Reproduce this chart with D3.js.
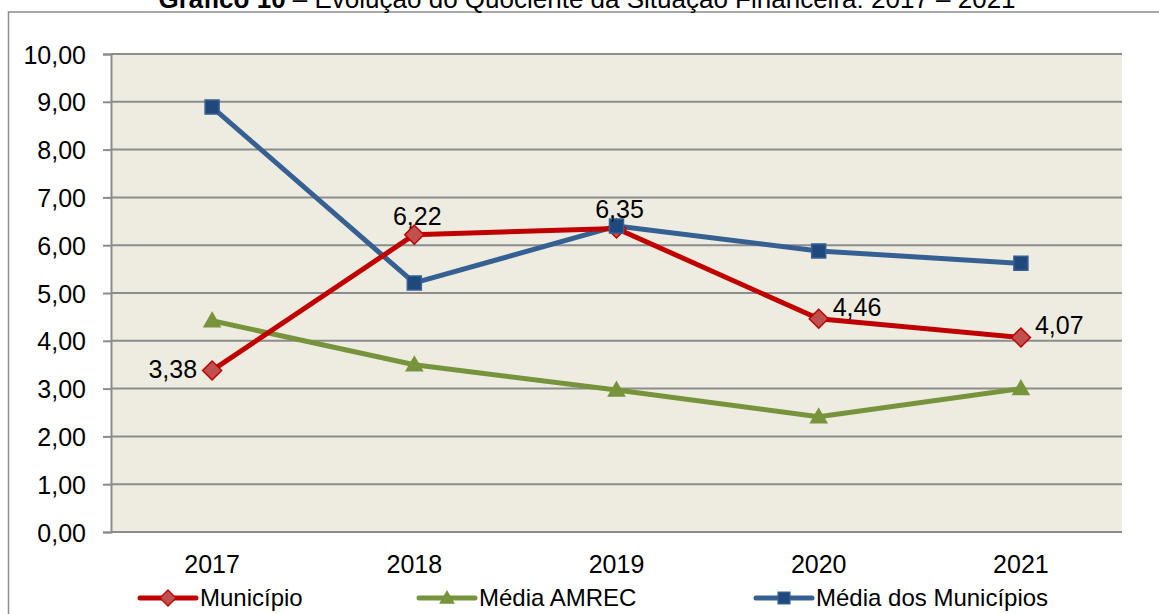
<!DOCTYPE html>
<html>
<head>
<meta charset="utf-8">
<script src="https://cdn.jsdelivr.net/npm/d3@7"></script>
<style>
  html, body { margin: 0; padding: 0; background: #ffffff; overflow: hidden; }
  svg { display: block; font-family: "Liberation Sans", Arial, sans-serif; }
</style>
</head>
<body>
<svg id="chart" width="1159" height="614"></svg>
<script>
// ---- data ----
const categories = ["2017", "2018", "2019", "2020", "2021"];
const municipio = [3.38, 6.22, 6.35, 4.46, 4.07];
const mediaAmrec = [4.42, 3.50, 2.97, 2.41, 3.00];
const mediaMunicipios = [8.89, 5.21, 6.40, 5.88, 5.62];
const yTicks = [0, 1, 2, 3, 4, 5, 6, 7, 8, 9, 10];
const seriesNames = ["Município", "Média AMREC", "Média dos Municípios"];
const titleBold = "Gráfico 10";
const titleRest = " – Evolução do Quociente da Situação Financeira: 2017 – 2021";

// ---- layout ----
const svg = d3.select("#chart");
const plot = { left: 111, right: 1122, top: 54, bottom: 532 };
const fmt = v => v.toFixed(2).replace(".", ",");

const x = d3.scaleBand().domain(categories).range([plot.left, plot.right]).paddingInner(0).paddingOuter(0);
const cx = c => x(c) + x.bandwidth() / 2;
const y = d3.scaleLinear().domain([0, 10]).range([plot.bottom, plot.top]);

// outer border (extends beyond the picture on right/bottom)
svg.append("rect").attr("x", 8.5).attr("y", 12).attr("width", 1300).attr("height", 800)
  .attr("fill", "none").attr("stroke", "#8c8c8c").attr("stroke-width", 1.5);

// title (cut by the top edge, as in the reference)
const title = svg.append("text").attr("x", 587).attr("y", 8).attr("text-anchor", "middle")
  .attr("font-size", 26).attr("fill", "#000");
title.append("tspan").attr("font-weight", "bold").text(titleBold);
title.append("tspan").text(titleRest);

// plot background
svg.append("rect").attr("x", plot.left).attr("y", plot.top)
  .attr("width", plot.right - plot.left).attr("height", plot.bottom - plot.top)
  .attr("fill", "#EEECE1");

// gridlines
svg.append("g").selectAll("line").data(yTicks).join("line")
  .attr("x1", plot.left).attr("x2", plot.right)
  .attr("y1", d => y(d)).attr("y2", d => y(d))
  .attr("stroke", "#8c8c8c").attr("stroke-width", 2);

// y axis
const yAxis = d3.axisLeft(y).tickValues(yTicks).tickFormat(fmt).tickSize(8).tickPadding(17);
const gy = svg.append("g").attr("transform", `translate(${plot.left},0)`).call(yAxis);
gy.select(".domain").attr("stroke", "#8c8c8c").attr("stroke-width", 2);
gy.selectAll(".tick line").attr("stroke", "#8c8c8c").attr("stroke-width", 2);
gy.selectAll(".tick text").attr("font-size", 25).attr("fill", "#000")
  .attr("font-family", "'Liberation Sans', Arial, sans-serif").attr("dy", "0.36em");

// x axis
const xAxis = d3.axisBottom(x).tickSize(0).tickPadding(0);
const gx = svg.append("g").attr("transform", `translate(0,${plot.bottom})`).call(xAxis);
gx.select(".domain").remove();
gx.selectAll(".tick text").attr("font-size", 25).attr("fill", "#000")
  .attr("font-family", "'Liberation Sans', Arial, sans-serif")
  .attr("dy", null).attr("y", 41);

// series
const series = [
  { name: seriesNames[0], values: municipio, line: "#C00000", fill: "#C0504D", stroke: "#C00000", marker: "diamond" },
  { name: seriesNames[1], values: mediaAmrec, line: "#77933C", fill: "#77933C", stroke: "#77933C", marker: "triangle" },
  { name: seriesNames[2], values: mediaMunicipios, line: "#376092", fill: "#1F497D", stroke: "#376092", marker: "square" }
];
function markerD(type) {
  if (type === "diamond") return "M0,-9.5L9.5,0L0,9.5L-9.5,0Z";
  if (type === "triangle") return "M0,-8L8,6L-8,6Z";
  return "M-7,-7L7,-7L7,7L-7,7Z";
}

const line = d3.line().x((d, i) => cx(categories[i])).y(d => y(d));
const lineOrder = [1, 2, 0];
lineOrder.forEach(k => {
  const s = series[k];
  svg.append("path").attr("d", line(s.values)).attr("fill", "none")
    .attr("stroke", s.line).attr("stroke-width", 5).attr("stroke-linejoin", "round");
});
[0, 1, 2].forEach(k => {
  const s = series[k];
  svg.append("g").selectAll("path").data(s.values).join("path")
    .attr("d", markerD(s.marker))
    .attr("transform", (d, i) => `translate(${cx(categories[i])},${y(d)})`)
    .attr("fill", s.fill).attr("stroke", s.stroke).attr("stroke-width", 1.5);
});

// data labels for Município
const labelPlace = ["left", "above", "above", "right", "right"];
svg.append("g").selectAll("text").data(municipio).join("text")
  .attr("font-size", 25).attr("fill", "#000")
  .attr("x", (d, i) => {
    const px = cx(categories[i]);
    if (labelPlace[i] === "left") return px - 15;
    if (labelPlace[i] === "right") return px + 14;
    return px + 3;
  })
  .attr("y", (d, i) => {
    const py = y(d);
    if (labelPlace[i] === "above") return py - 10;
    return py + (labelPlace[i] === "left" ? 8 : -3);
  })
  .attr("text-anchor", (d, i) => labelPlace[i] === "left" ? "end" : (labelPlace[i] === "right" ? "start" : "middle"))
  .text(d => fmt(d));

// legend
const legendX = [140, 419, 756];
const legend = svg.append("g");
series.forEach((s, k) => {
  const g = legend.append("g").attr("transform", `translate(${legendX[k]},598)`);
  g.append("line").attr("x1", 0).attr("x2", 56).attr("y1", 0).attr("y2", 0)
    .attr("stroke", s.line).attr("stroke-width", 5).attr("stroke-linecap", "round");
  g.append("path").attr("d", markerD(s.marker)).attr("transform", "translate(28,0) scale(0.85)")
    .attr("fill", s.fill).attr("stroke", s.stroke).attr("stroke-width", 1.5);
  g.append("text").attr("x", 60).attr("y", 8).attr("font-size", 24).attr("fill", "#000").text(s.name);
});
</script>
</body>
</html>
